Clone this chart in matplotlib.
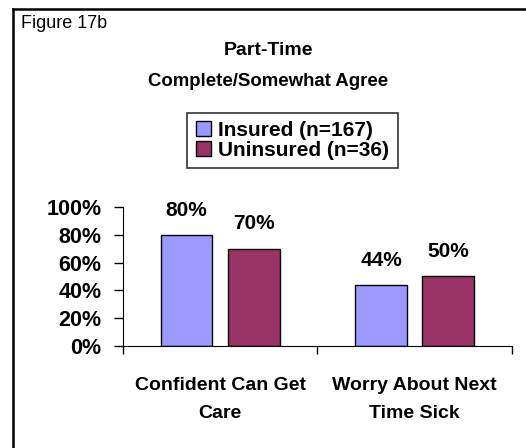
import numpy as np
import matplotlib
matplotlib.use("Agg")
import matplotlib.pyplot as plt
from matplotlib.lines import Line2D
from matplotlib.patches import Patch

# data
categories = ["Confident Can Get\nCare", "Worry About Next\nTime Sick"]
series_names = ["Insured (n=167)", "Uninsured (n=36)"]
insured = [0.80, 0.44]
uninsured = [0.70, 0.50]
colors = ["#9999FF", "#993366"]
yticks = [0, 0.2, 0.4, 0.6, 0.8, 1.0]
ytick_labels = ["0%", "20%", "40%", "60%", "80%", "100%"]

plt.rcParams['font.family'] = ['Liberation Sans', 'DejaVu Sans']

fig = plt.figure(figsize=(5.26, 4.48), dpi=100)
ax = fig.add_axes([0.2338, 0.2277, 0.7395, 0.3103])

x = np.arange(len(categories))
w = 0.265
off = w / 2 + 0.04
for vals, col, dx in [(insured, colors[0], -off), (uninsured, colors[1], off)]:
    bars = ax.bar(x + dx, vals, width=w, color=col, edgecolor="black", linewidth=1)
    for b, v in zip(bars, vals):
        ax.annotate(f"{v*100:.0f}%", (b.get_x() + b.get_width() / 2, v),
                    xytext=(0, 11), textcoords="offset points",
                    ha="center", va="bottom", fontsize=15, fontweight="bold")

ax.set_xlim(-0.5, 1.5)
ax.set_ylim(0, 1)
ax.spines['top'].set_visible(False)
ax.spines['right'].set_visible(False)
ax.set_yticks(yticks)
ax.set_yticklabels(ytick_labels, fontsize=15.5, fontweight="bold")
ax.tick_params(axis="y", length=6.5, pad=9, width=1)

# category boundaries as major ticks, names on minor ticks
ax.set_xticks([-0.5, 0.5, 1.5])
ax.set_xticklabels([])
ax.tick_params(axis="x", which="major", length=6, width=1, direction="out")
ax.set_xticks(x, minor=True)
ax.set_xticklabels(categories, minor=True, fontsize=14, fontweight="bold",
                   linespacing=1.9)
ax.tick_params(axis="x", which="minor", length=0, pad=22)

# titles
fig.text(0.51, 1 - 55 / 448, "Part-Time", ha="center", va="baseline",
         fontsize=14, fontweight="bold")
fig.text(0.51, 1 - 86 / 448, "Complete/Somewhat Agree", ha="center", va="baseline",
         fontsize=13.4, fontweight="bold")
fig.text(0.040, 1 - 28 / 448, "Figure 17b", ha="left", va="baseline", fontsize=13)

# legend
handles = [Patch(facecolor=c, edgecolor="black", linewidth=1) for c in colors]
leg = fig.legend(handles, series_names, loc="center", bbox_to_anchor=(0.556, 0.6864),
                 frameon=True, fancybox=False, edgecolor="black",
                 prop={"size": 15, "weight": "bold"},
                 handlelength=0.75, handleheight=0.72, handletextpad=0.33,
                 labelspacing=0.05, borderpad=0.4, borderaxespad=0)
leg.get_frame().set_linewidth(1.2)

# outer frame: left and top edges
fig.add_artist(Line2D([13 / 526, 13 / 526], [0, 1 - 9 / 448], color="black", lw=1.8,
                      transform=fig.transFigure))
fig.add_artist(Line2D([13 / 526, 1], [1 - 9 / 448, 1 - 9 / 448], color="black", lw=1.8,
                      transform=fig.transFigure))

fig.savefig("out.png", dpi=100)
